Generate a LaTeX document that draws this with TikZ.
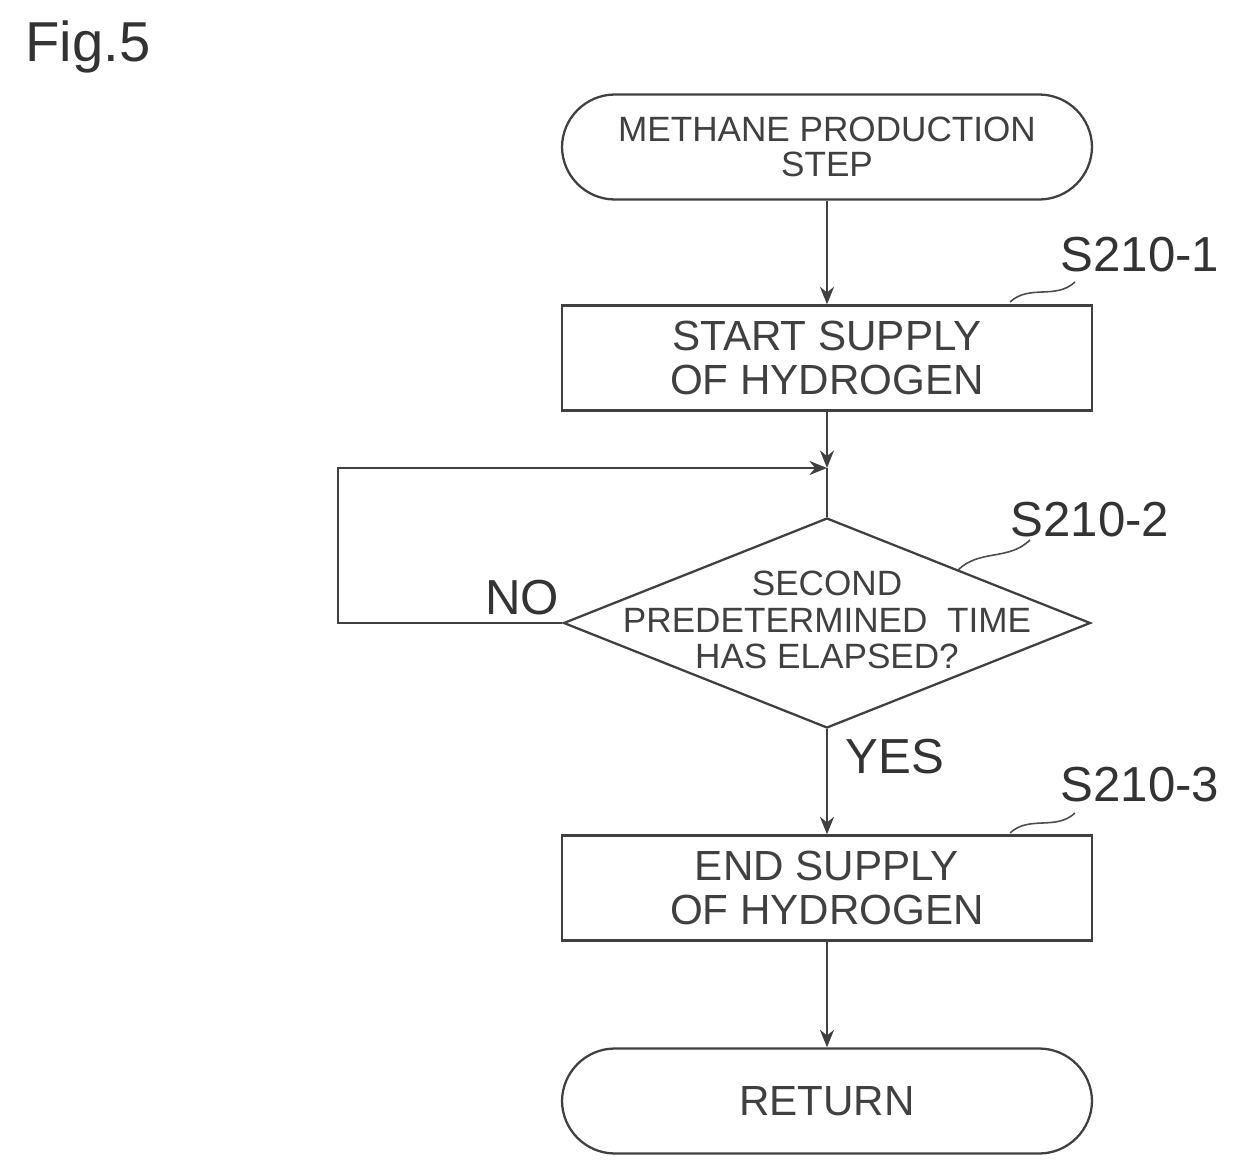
\documentclass[tikz,border=0pt]{standalone}
\usepackage{fontspec}
\setmainfont{Liberation Sans}
\usetikzlibrary{shapes.geometric,arrows.meta,calc}
\begin{document}
\begin{tikzpicture}[x=0.02cm,y=-0.02cm,
  ln/.style={line width=1.3pt,black!75},
  arr/.style={ln,-{Stealth[length=10pt,width=8pt]}},
  box/.style={draw,ln,minimum width=530*0.02cm,minimum height=105*0.02cm,align=center,font=\fontsize{24}{25}\selectfont,inner sep=0pt},
  term/.style={box,rounded corners=53*0.02cm,font=\fontsize{20}{20}\selectfont},
  lab/.style={font=\fontsize{28}{32}\selectfont,inner sep=0pt,text=black!80}]
\useasboundingbox (0,0) rectangle (1245,1176);
\node[lab,font=\fontsize{32}{36}\selectfont] (fig) at (88,47) {Fig.5};
\node[term] (start) at (827,147) {METHANE PRODUCTION\\STEP};
\node[box] (b1) at (827,358) {START SUPPLY\\OF HYDROGEN};
\node[draw,ln,diamond,minimum width=527*0.02cm,minimum height=210*0.02cm,aspect=2.5,inner sep=0pt] (d) at (827,623) {};
\node[align=center,font=\fontsize{20}{21}\selectfont,text=black!75] (dt) at (827,620) {SECOND\\PREDETERMINED\ \ TIME\\HAS ELAPSED?};
\node[box] (b3) at (827,888) {END SUPPLY\\OF HYDROGEN};
\node[term,font=\fontsize{24}{25}\selectfont] (ret) at (827,1101) {RETURN};
\coordinate (m) at (827,468);
\coordinate (lc) at (338,623);
\draw[arr] (start) -- (b1);
\draw[arr] (b1) -- (m);
\draw[ln] (m) -- (d.north);
\draw[arr] (d.west) -- (lc) |- (m);
\draw[arr] (d.south) -- (b3);
\draw[arr] (b3) -- (ret);
\node[lab] (no) at (522,598) {NO};
\node[lab] (yes) at (895,757) {YES};
\node[lab] (s1) at (1140,255) {S210-1};
\node[lab] (s2) at (1090,520) {S210-2};
\node[lab] (s3) at (1140,785) {S210-3};
\coordinate (l1a) at (1010,302); \coordinate (l1b) at (1075,282);
\coordinate (l2a) at (958,570); \coordinate (l2b) at (1030,540);
\coordinate (l3a) at (1010,833); \coordinate (l3b) at (1075,813);
\foreach \a/\b in {l1a/l1b,l2a/l2b,l3a/l3b}
  \draw[line width=0.9pt,black!70] (\a) .. controls ($(\a)!0.3!(\b)+(0,-12)$) and ($(\a)!0.7!(\b)+(0,12)$) .. (\b);
\end{tikzpicture}
\end{document}
